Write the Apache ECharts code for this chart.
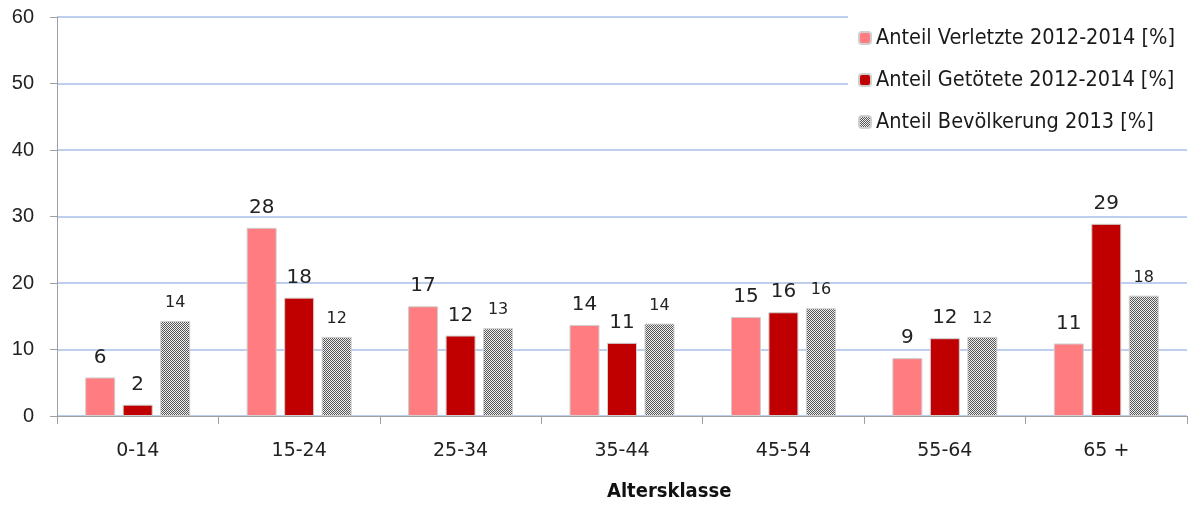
<!DOCTYPE html>
<html><head><meta charset="utf-8">
<script src="https://cdn.jsdelivr.net/npm/echarts@6/dist/echarts.min.js"></script>
<style>html,body{margin:0;padding:0;background:#fff}#c{width:1189px;height:506px}</style>
</head><body><div id="c"></div>
<script>
const categories = ['0-14','15-24','25-34','35-44','45-54','55-64','65 +'];
const verletzte = [5.8, 28.3, 16.5, 13.7, 14.9, 8.7, 10.9];
const getoetete = [1.7, 17.8, 12.1, 11.0, 15.6, 11.7, 28.9];
const bevoelkerung = [14.3, 11.9, 13.2, 13.9, 16.2, 11.9, 18.1];
const seriesNames = ['Anteil Verletzte 2012-2014 [%]','Anteil Getötete 2012-2014 [%]','Anteil Bevölkerung 2013 [%]'];
const yTicks = {min: 0, max: 60, interval: 10};

const pc = document.createElement('canvas');
pc.width = 2; pc.height = 2;
const g = pc.getContext('2d');
g.fillStyle = '#f0f0f0'; g.fillRect(0,0,2,2);
g.fillStyle = '#555555'; g.fillRect(0,0,1,1); g.fillRect(1,1,1,1);

const condFont = '"DejaVu Sans Condensed", "DejaVu Sans"';
const labelFont = 'DejaVu Sans';
function mk(name, data, color, fs) {
  return {
    name, type: 'bar', data, barWidth: 30, barGap: '25%',
    itemStyle: {color, borderColor: '#cfcfcf', borderWidth: 1},
    label: {show: true, position: 'top', distance: 10, color: '#222', fontFamily: labelFont, fontSize: fs,
      formatter: p => Math.round(p.value)}
  };
}
const chart = echarts.init(document.getElementById('c'), null, {renderer: 'canvas'});
chart.setOption({
  animation: false,
  grid: {left: 57, right: 2, top: 17, bottom: 90},
  legend: {
    orient: 'vertical', left: 848, top: 14, backgroundColor: '#fff',
    padding: [13, 40, 13, 10], itemWidth: 12, itemHeight: 12, itemGap: 20,
    data: seriesNames,
    textStyle: {fontFamily: condFont, fontSize: 21.5, color: '#1a1a1a'}
  },
  xAxis: {
    type: 'category', data: categories,
    axisLine: {lineStyle: {color: '#a0a0a0', width: 1}},
    axisTick: {show: true, length: 8, lineStyle: {color: '#a0a0a0'}},
    axisLabel: {fontFamily: labelFont, fontSize: 19, color: '#222', margin: 26}
  },
  yAxis: {
    type: 'value', min: yTicks.min, max: yTicks.max, interval: yTicks.interval,
    axisLine: {show: true, lineStyle: {color: '#a0a0a0', width: 1}},
    axisTick: {show: true, length: 7, lineStyle: {color: '#a0a0a0'}},
    axisLabel: {fontFamily: 'Liberation Sans', fontSize: 20, color: '#222', margin: 23},
    splitLine: {lineStyle: {color: '#a9bfe8', width: 1.5}}
  },
  graphic: [{type: 'text', left: 607, top: 482,
    style: {text: 'Altersklasse', font: 'bold 20px "DejaVu Sans Condensed", "DejaVu Sans"', fill: '#111'}}],
  series: [
    mk(seriesNames[0], verletzte, '#ff7c80', 20),
    mk(seriesNames[1], getoetete, '#c00000', 20),
    mk(seriesNames[2], bevoelkerung, {image: pc, repeat: 'repeat'}, 16)
  ]
});
</script></body></html>
